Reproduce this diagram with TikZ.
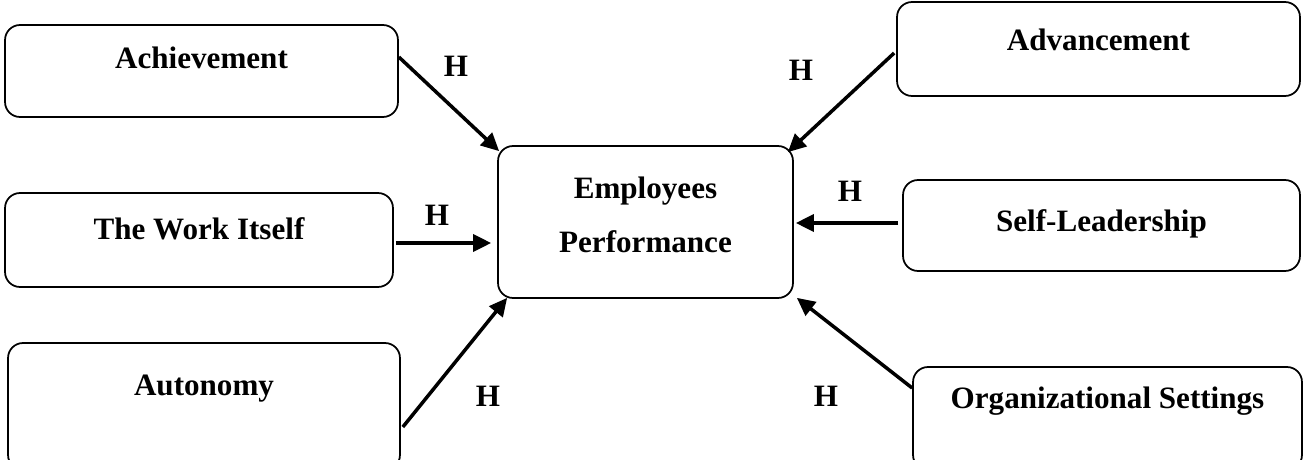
\documentclass[tikz,border=0pt]{standalone}
\usepackage{fontspec}
\setmainfont{Liberation Serif}
\usetikzlibrary{calc,arrows.meta}
\tikzset{
  box/.style={draw, line width=0.035cm, rounded corners=0.3cm, inner sep=0pt},
  link/.style={line width=0.07cm, -{Triangle[length=0.36cm,width=0.34cm]}},
  hyp/.style={inner sep=0pt},
}

\begin{document}
\begin{tikzpicture}[x=0.02cm, y=-0.02cm, font=\bfseries\fontsize{17.7}{21}\selectfont]
        \useasboundingbox (0,0) rectangle (1306,460);
        \clip (0,0) rectangle (1306,460);

        % boxes
        \node[box, minimum width=7.86cm, minimum height=1.84cm,
              label={[yshift=0.26cm]center:Achievement}] (ach) at (201.5,71) {};
        \node[box, minimum width=7.76cm, minimum height=1.88cm,
              label={[yshift=0.22cm]center:The Work Itself}] (work) at (199,240) {};
        \node[box, minimum width=7.84cm, minimum height=2.54cm,
              label={[yshift=0.35cm]center:Autonomy}] (aut) at (204,406.5) {};
        \node[box, minimum width=5.9cm, minimum height=3.04cm,
              label={[align=center, yshift=0.15cm, font=\bfseries\fontsize{17.7}{30.6}\selectfont]center:Employees\\Performance}] (emp) at (645.5,222) {};
        \node[box, minimum width=8.06cm, minimum height=1.88cm,
              label={[yshift=0.18cm]center:Advancement}] (adv) at (1098.5,49) {};
        \node[box, minimum width=7.94cm, minimum height=1.82cm,
              label={[yshift=0.03cm]center:Self-Leadership}] (self) at (1101.5,225.5) {};
        \node[box, minimum width=7.78cm, minimum height=2.06cm,
              label={[yshift=0.35cm]center:Organizational Settings}] (org) at (1107.5,418.5) {};

        % arrows
        \draw[link] ($(ach.east)+(0,-14)$) -- ($(emp.north west)+(2,6)$);
        \draw[link] ($(work.east)+(2,3)$) -- ($(emp.west)+(-6,21)$);
        \draw[link] ($(aut.east)+(2,20.5)$) -- ($(emp.south west)+(10,-1)$);
        \draw[link] ($(adv.west)+(-2,4)$) -- ($(emp.north east)+(-6,7)$);
        \draw[link] ($(self.west)+(-4,-2.5)$) -- ($(emp.east)+(2,1)$);
        \draw[link] ($(org.west)+(0,-30.5)$) -- ($(emp.south east)+(3,-1)$);

        % Text
        \foreach \i/\p in {1/{456,66}, 2/{437,215}, 3/{488,396}, 4/{801,70.5}, 5/{850,191}, 6/{826,396}}
            \node[hyp] (h\i) at (\p) {H};
\end{tikzpicture}
\end{document}
